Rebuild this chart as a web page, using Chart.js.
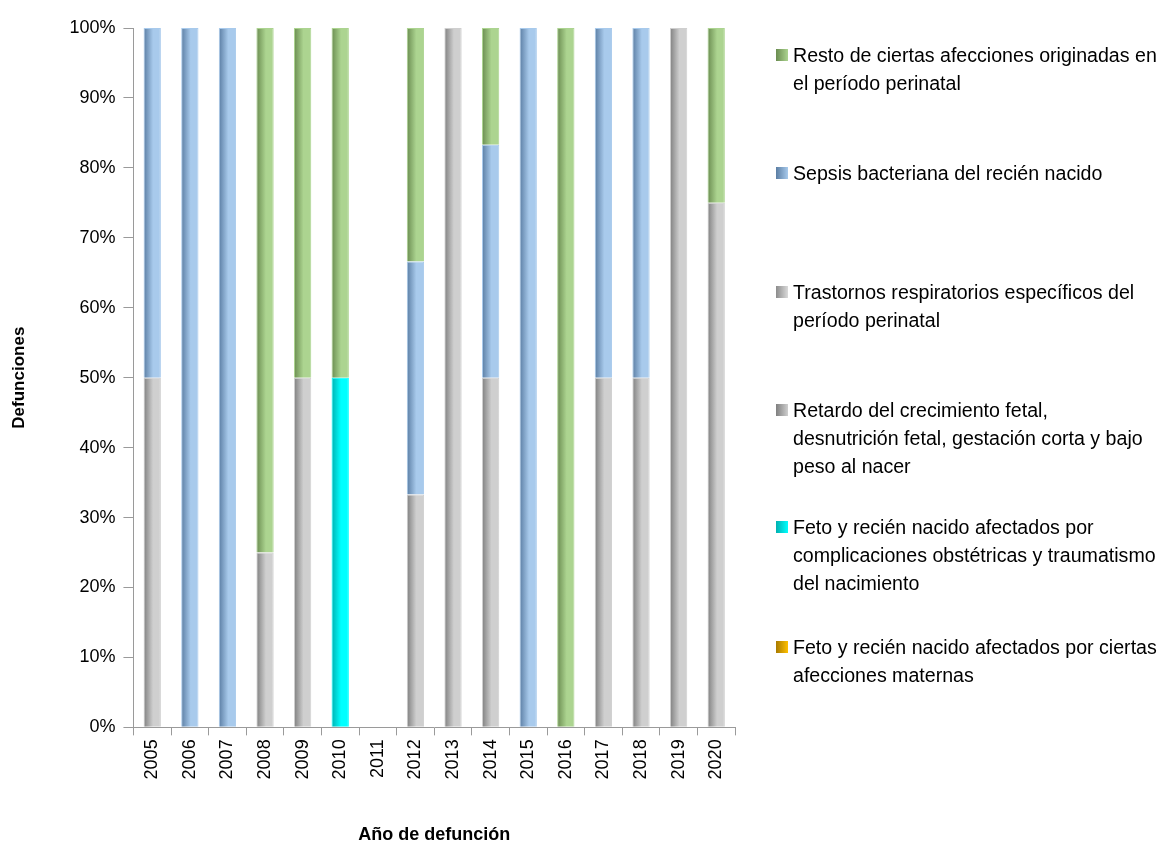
<!DOCTYPE html>
<html>
<head>
<meta charset="utf-8">
<script src="https://cdn.jsdelivr.net/npm/chart.js@4"></script>
<style>
  body { margin: 0; background: #fff; }
  #wrap { position: relative; width: 1160px; height: 846px; }
  #legend { position: absolute; left: 776px; top: 0; font-family: "Liberation Sans", Arial, sans-serif; font-size: 19.6px; color: #000; }
  .item { position: absolute; left: 0; width: 384px; line-height: 28px; white-space: nowrap; }
  .sw { position: absolute; left: 0; top: 8px; width: 12px; height: 12px; }
  .txt { position: absolute; left: 17px; top: 0; }
</style>
</head>
<body>
<div id="wrap">
  <canvas id="myChart" width="1160" height="846"></canvas>
  <div id="legend"></div>
</div>
<script>
const years = ["2005","2006","2007","2008","2009","2010","2011","2012","2013","2014","2015","2016","2017","2018","2019","2020"];
const maternas = [0,0,0,0,0,0,0,0,0,0,0,0,0,0,0,0];
const complicaciones = [0,0,0,0,0,50,0,0,0,0,0,0,0,0,0,0];
const retardo = [50,0,0,25,50,0,0,33.3,100,50,0,0,50,50,100,75];
const trastornos = [0,0,0,0,0,0,0,0,0,0,0,0,0,0,0,0];
const sepsis = [50,100,100,0,0,0,0,33.3,0,33.3,100,0,50,50,0,0];
const resto = [0,0,0,75,50,50,0,33.4,0,16.7,0,100,0,0,0,25];
const yTicks = [0,10,20,30,40,50,60,70,80,90,100];

const series = [
  { label: "Feto y recién nacido afectados por ciertas afecciones maternas", data: maternas, c: ["#a87a00", "#ffc000"], lines: ["Feto y recién nacido afectados por ciertas", "afecciones maternas"], top: 633 },
  { label: "Feto y recién nacido afectados por complicaciones obstétricas y traumatismo del nacimiento", data: complicaciones, c: ["#00b0b0", "#00ffff"], lines: ["Feto y recién nacido afectados por", "complicaciones obstétricas y traumatismo", "del nacimiento"], top: 513 },
  { label: "Retardo del crecimiento fetal, desnutrición fetal, gestación corta y bajo peso al nacer", data: retardo, c: ["#7f7f7f", "#cfcfcf"], lines: ["Retardo del crecimiento fetal,", "desnutrición fetal, gestación corta y bajo", "peso al nacer"], top: 396 },
  { label: "Trastornos respiratorios específicos del período perinatal", data: trastornos, c: ["#8c8c8c", "#dadada"], lines: ["Trastornos respiratorios específicos del", "período perinatal"], top: 278 },
  { label: "Sepsis bacteriana del recién nacido", data: sepsis, c: ["#5a7da3", "#a8caec"], lines: ["Sepsis bacteriana del recién nacido"], top: 159 },
  { label: "Resto de ciertas afecciones originadas en el período perinatal", data: resto, c: ["#6a8c50", "#acd490"], lines: ["Resto de ciertas afecciones originadas en", "el período perinatal"], top: 41 }
];

function barGrad(ctx, c) {
  const chart = ctx.chart;
  const area = chart.chartArea;
  if (!area || !chart.scales.x) return c[1];
  const x = chart.scales.x.getPixelForValue(ctx.dataIndex);
  const hw = (area.width / years.length) * 0.46 / 2;
  const g = chart.ctx.createLinearGradient(x - hw, 0, x + hw, 0);
  g.addColorStop(0, c[0]);
  g.addColorStop(0.55, c[1]);
  g.addColorStop(1, c[1]);
  return g;
}

const ctx = document.getElementById("myChart");
new Chart(ctx, {
  type: "bar",
  data: {
    labels: years,
    datasets: series.map((s) => ({
      label: s.label,
      data: s.data,
      backgroundColor: (cx) => barGrad(cx, s.c),
      borderColor: s.c[1],
      borderWidth: (cx) => (s.data[cx.dataIndex] ? 1 : 0),
      categoryPercentage: 1,
      barPercentage: 0.46,
    })),
  },
  options: {
    responsive: false,
    animation: false,
    layout: { padding: { left: 9, right: 425, top: 28, bottom: 0 } },
    plugins: { legend: { display: false }, tooltip: { enabled: false } },
    scales: {
      x: {
        stacked: true,
        grid: { display: true, drawOnChartArea: false, color: "#9a9a9a", tickLength: 8 },
        border: { color: "#9a9a9a" },
        ticks: { color: "#000", font: { family: "Liberation Sans", size: 18 }, minRotation: 90, maxRotation: 90, padding: 4 },
        title: { display: true, text: "Año de defunción", color: "#000", font: { family: "Liberation Sans", size: 18, weight: "bold" }, padding: { top: 41, bottom: 0 } },
      },
      y: {
        stacked: true,
        min: 0,
        max: 100,
        afterBuildTicks: (axis) => { axis.ticks = yTicks.map((v) => ({ value: v })); },
        grid: { display: true, drawOnChartArea: false, color: "#9a9a9a", tickLength: 10 },
        border: { color: "#9a9a9a" },
        ticks: { color: "#000", font: { family: "Liberation Sans", size: 18 }, padding: 8, callback: (v) => v + "%" },
        title: { display: true, text: "Defunciones", color: "#000", font: { family: "Liberation Sans", size: 17, weight: "bold" }, padding: { top: 0, bottom: 32 } },
      },
    },
  },
});

const legend = document.getElementById("legend");
series.forEach((s) => {
  const item = document.createElement("div");
  item.className = "item";
  item.style.top = s.top + "px";
  const sw = document.createElement("div");
  sw.className = "sw";
  sw.style.background = "linear-gradient(to right, " + s.c[0] + ", " + s.c[1] + ")";
  const txt = document.createElement("div");
  txt.className = "txt";
  txt.innerHTML = s.lines.join("<br>");
  item.appendChild(sw);
  item.appendChild(txt);
  legend.appendChild(item);
});
</script>
</body>
</html>
